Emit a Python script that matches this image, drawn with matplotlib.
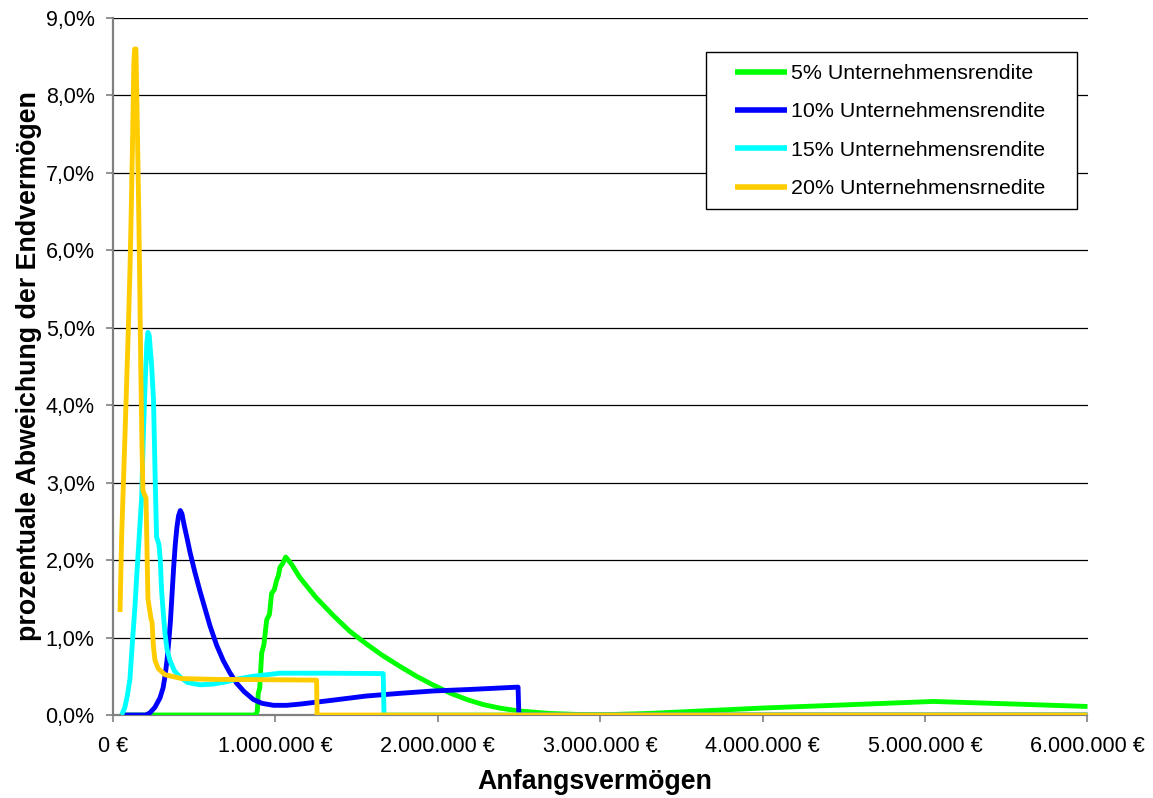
import matplotlib
matplotlib.use("Agg")
import matplotlib.pyplot as plt
from matplotlib.patches import Rectangle

# ---------------- data ----------------
# x: Anfangsvermögen in thousand EUR, y: percent deviation
green_x = [50, 880, 890, 896, 905, 917, 930, 948, 965, 978, 995, 1009, 1020, 1030, 1045, 1065,
           1100, 1150, 1250, 1360, 1460, 1560, 1660, 1770, 1870, 1970, 2080, 2180, 2280, 2380,
           2500, 2690, 2850, 3050, 3300, 3600, 4000, 4500, 5050, 5500, 6000]
green_y = [0, 0, 0.05, 0.28, 0.35, 0.8, 0.9, 1.23, 1.3, 1.57, 1.62, 1.74, 1.8, 1.91, 1.95, 2.04,
           1.95, 1.78, 1.52, 1.28, 1.08, 0.92, 0.77, 0.625, 0.5, 0.39, 0.28, 0.2, 0.135, 0.09,
           0.052, 0.02, 0.008, 0.005, 0.02, 0.05, 0.09, 0.13, 0.175, 0.145, 0.11]

blue_x = [50, 205, 230, 260, 291, 310, 322, 335, 345, 355, 365, 375, 385, 395, 405, 416, 426,
          440, 458, 476, 505, 537, 570, 599, 640, 681, 720, 763, 810, 866, 920, 990, 1070, 1150,
          1350, 1560, 1770, 1970, 2200, 2495, 2500, 6000]
blue_y = [0, 0, 0.03, 0.1, 0.22, 0.35, 0.5, 0.72, 0.95, 1.2, 1.55, 1.9, 2.2, 2.42, 2.57, 2.64, 2.6,
          2.45, 2.28, 2.1, 1.85, 1.6, 1.36, 1.15, 0.9, 0.7, 0.55, 0.41, 0.3, 0.2, 0.15, 0.125, 0.125,
          0.14, 0.19, 0.245, 0.28, 0.31, 0.33, 0.36, 0, 0]

cyan_x = [50, 55, 75, 90, 106, 120, 137, 148, 160, 178, 190, 200, 210, 217, 225, 240, 251, 262,
          270, 285, 293, 301, 312, 322, 334, 353, 380, 414, 460, 537, 620, 701, 780, 865, 950,
          1030, 1300, 1665, 1670, 6000]
cyan_y = [0, 0, 0.1, 0.25, 0.46, 0.9, 1.4, 1.8, 2.2, 2.8, 3.7, 4.3, 4.8, 4.94, 4.9, 4.5, 4.08, 3.0,
          2.3, 2.2, 2.0, 1.6, 1.3, 1.05, 0.85, 0.7, 0.57, 0.49, 0.42, 0.39, 0.4, 0.43, 0.47, 0.5, 0.52,
          0.54, 0.54, 0.535, 0, 0]

yellow_x = [45, 55, 66, 80, 95, 107, 115, 122, 130, 135, 143, 150, 158, 165, 172, 180, 186, 195,
            205, 217, 235, 242, 250, 260, 280, 322, 425, 630, 1000, 1255, 1258, 6000]
yellow_y = [1.33, 2.3, 3.0, 3.9, 4.9, 5.8, 6.6, 7.4, 8.4, 8.6, 8.6, 7.8, 6.8, 5.8, 4.6, 3.5, 2.9, 2.85,
            2.8, 1.5, 1.25, 1.2, 0.9, 0.71, 0.6, 0.52, 0.47, 0.46, 0.455, 0.45, 0, 0]

series_labels = ["5% Unternehmensrendite", "10% Unternehmensrendite",
                 "15% Unternehmensrendite", "20% Unternehmensrnedite"]
series_colors = ["#00FF00", "#0000FF", "#00FFFF", "#FFCC00"]

y_ticks = [0, 1, 2, 3, 4, 5, 6, 7, 8, 9]
y_ticklabels = ["0,0%", "1,0%", "2,0%", "3,0%", "4,0%", "5,0%", "6,0%", "7,0%", "8,0%", "9,0%"]
x_ticks = [0, 1000, 2000, 3000, 4000, 5000, 6000]
x_ticklabels = ["0 €", "1.000.000 €", "2.000.000 €", "3.000.000 €",
                "4.000.000 €", "5.000.000 €", "6.000.000 €"]

x_title = "Anfangsvermögen"
y_title = "prozentuale Abweichung der Endvermögen"

# ---------------- plot ----------------
plt.rcParams['font.family'] = ['Liberation Sans', 'DejaVu Sans']

W, H = 1153, 798
fig = plt.figure(figsize=(W / 100, H / 100), dpi=100)
ax = fig.add_axes([112.7 / W, 1 - 715 / H, (1087.5 - 112.7) / W, (715 - 18) / H])

xs = [green_x, blue_x, cyan_x, yellow_x]
ys = [green_y, blue_y, cyan_y, yellow_y]
for i, (x, y) in enumerate(zip(xs, ys)):
    ax.plot(x, y, color=series_colors[i], lw=3.5, label=series_labels[i],
            solid_joinstyle='round', solid_capstyle='butt', zorder=3 + i)

ax.set_xlim(0, 6000)
ax.set_ylim(0, 9)
ax.set_yticks(y_ticks)
ax.set_yticklabels(y_ticklabels, fontsize=15.5)
ax.set_xticks(x_ticks)
ax.set_xticklabels(x_ticklabels, fontsize=15.5)

ax.grid(axis='y', color='black', lw=0.9, zorder=1)
ax.set_axisbelow(True)
for s in ['top', 'right']:
    ax.spines[s].set_visible(False)
for s in ['left', 'bottom']:
    ax.spines[s].set_color('#808080')
    ax.spines[s].set_linewidth(1.6)
ax.tick_params(axis='both', direction='out', length=5, width=1.2, color='#808080',
               labelcolor='black')
ax.tick_params(axis='y', pad=8)
ax.tick_params(axis='x', pad=10)

fig.text(595 / W, 1 - 782 / H, x_title, ha='center', va='center',
         fontsize=19.3, fontweight='bold')
fig.text(29 / W, 1 - 366 / H, y_title, ha='center', va='center', rotation=90,
         fontsize=19.3, fontweight='bold')

# legend frame drawn separately to get Excel-like padding
frame = Rectangle((706 / W, 1 - 209 / H), (1077 - 706) / W, (209 - 52) / H,
                  transform=fig.transFigure, facecolor='white', edgecolor='black',
                  lw=1.0, zorder=10, clip_on=False)
ax.add_patch(frame)
leg = ax.legend(loc='upper left', bbox_to_anchor=(735 / W, 1 - 64 / H),
                bbox_transform=fig.transFigure, fontsize=15.4, frameon=False,
                handlelength=2.45, handletextpad=0.15,
                labelspacing=0.91, borderpad=0, borderaxespad=0)
leg.set_zorder(11)
for line in leg.get_lines():
    line.set_linewidth(4)

fig.savefig("out.png", dpi=100)
